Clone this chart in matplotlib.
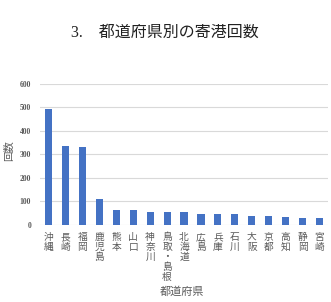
import matplotlib
matplotlib.use('Agg')
import matplotlib.pyplot as plt

# data
prefectures = ['沖縄', '長崎', '福岡', '鹿児島', '熊本', '山口', '神奈川', '鳥取・島根',
               '北海道', '広島', '兵庫', '石川', '大阪', '京都', '高知', '静岡', '宮崎']
counts = [495, 337, 332, 109, 62, 62, 57, 56, 54, 48, 45, 45, 40, 38, 35, 31, 28]
yticks = [0, 100, 200, 300, 400, 500, 600]

jp = ['Noto Sans CJK JP', 'DejaVu Sans']
serif = ['Liberation Serif', 'Noto Sans CJK JP']

fig = plt.figure(figsize=(3.31, 3.02), dpi=100)
ax = fig.add_axes([0.121, 0.255, 0.870, 0.467])

x = list(range(len(prefectures)))
ax.bar(x, counts, width=0.42, color='#4472C4', zorder=3)

ax.set_xlim(-0.5, len(prefectures) - 0.5)
ax.set_ylim(0, 600)
ax.set_yticks(yticks)
ax.set_yticklabels([str(v) for v in yticks], family=serif, fontsize=5.5,
                   fontweight='bold', color='#595959')
ax.grid(axis='y', color='#D9D9D9', linewidth=0.8, zorder=0)
for s in ax.spines.values():
    s.set_visible(False)
ax.tick_params(length=0, pad=6.5)

ax.set_xticks(x)
ax.set_xticklabels(['\n'.join(p) for p in prefectures], family=jp, fontsize=7,
                   color='#595959', linespacing=1.0, va='top')
ax.tick_params(axis='x', pad=5)

# axis titles
fig.text(9 / 331, 1 - 151 / 302, '回数', family=jp, fontsize=7.5, color='#595959',
         rotation=90, ha='center', va='center')
fig.text(182 / 331, 1 - 292 / 302, '都道府県', family=jp, fontsize=8, color='#595959',
         ha='center', va='center')

fig.text(0.497, 0.893, '3.\u3000都道府県別の寄港回数', family=serif, fontsize=11.5,
         color='#222222', ha='center', va='center')

fig.savefig('out.png', dpi=100, facecolor='white')
